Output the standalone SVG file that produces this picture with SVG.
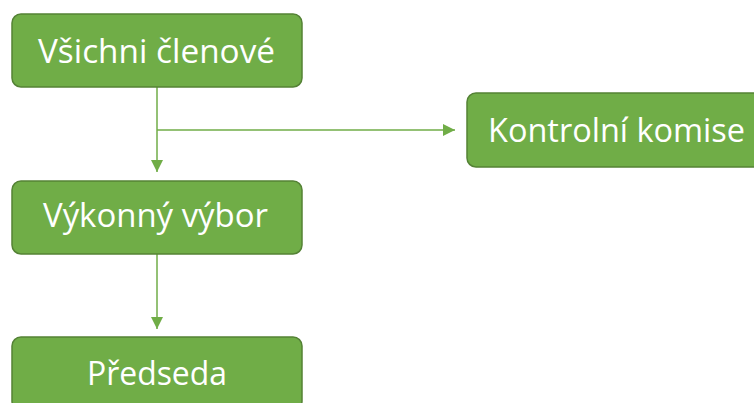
<svg xmlns="http://www.w3.org/2000/svg" width="754" height="403" viewBox="0 0 754 403">
<defs>
<marker id="arr" viewBox="0 0 12 12" refX="12" refY="6" markerWidth="12" markerHeight="12" markerUnits="userSpaceOnUse" orient="auto">
<path d="M0,0 L12,6 L0,12 Z" fill="#70AD47"/>
</marker>
<style>
.box{fill:#70AD47;stroke:#548235;stroke-width:1.5}
.lbl{fill:#fff;font-family:"Open Sans","Liberation Sans",sans-serif;font-size:33px;text-anchor:middle}
.con{stroke:#70AD47;stroke-width:1.5;fill:none}
</style>
</defs>
<rect width="754" height="403" fill="#fff"/>
<g id="connectors">
<path class="con" d="M157,87 V172" marker-end="url(#arr)"/>
<path class="con" d="M157,130 H455" marker-end="url(#arr)"/>
<path class="con" d="M157,254 V329" marker-end="url(#arr)"/>
</g>
<g id="vsichni">
<rect class="box" x="12" y="14" width="290" height="73" rx="9"/>
<text class="lbl" x="156.5" y="63" textLength="237" lengthAdjust="spacingAndGlyphs">Všichni členové</text>
</g>
<g id="kontrolni">
<rect class="box" x="467" y="93" width="300" height="74" rx="9"/>
<text class="lbl" x="616.5" y="142" textLength="257" lengthAdjust="spacingAndGlyphs">Kontrolní komise</text>
</g>
<g id="vykonny">
<rect class="box" x="12" y="181" width="290" height="73" rx="9"/>
<text class="lbl" x="155.5" y="227" textLength="225" lengthAdjust="spacingAndGlyphs">Výkonný výbor</text>
</g>
<g id="predseda">
<rect class="box" x="12" y="337" width="290" height="73" rx="9"/>
<text class="lbl" x="157" y="385" textLength="140" lengthAdjust="spacingAndGlyphs">Předseda</text>
</g>
</svg>
